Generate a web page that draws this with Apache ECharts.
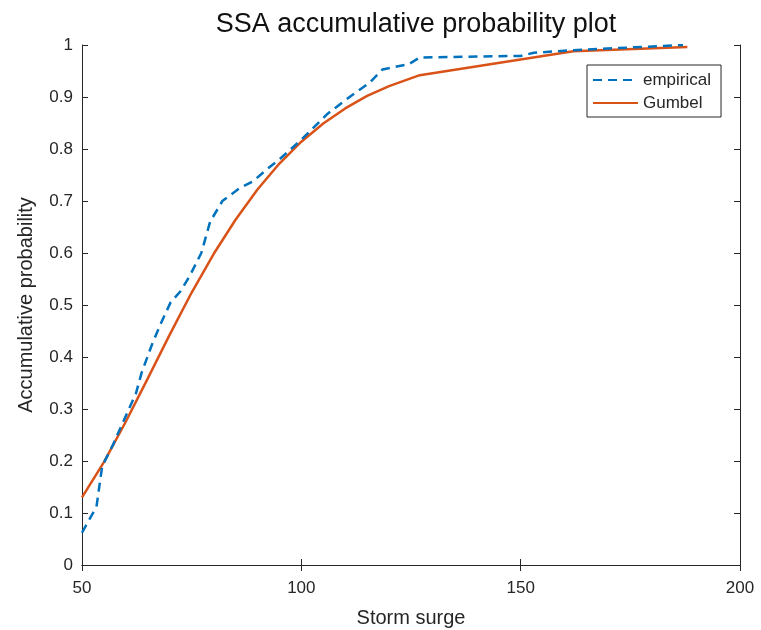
<!DOCTYPE html>
<html>
<head>
<meta charset="utf-8">
<title>SSA accumulative probability plot</title>
<script src="https://cdn.jsdelivr.net/npm/echarts@6/dist/echarts.min.js"></script>
<style>
  html, body { margin: 0; padding: 0; background: #fff; }
  #chart { width: 761px; height: 630px; }
</style>
</head>
<body>
<div id="chart"></div>
<script>
// Storm surge levels and the empirical cumulative probability at each
const empiricalX = [50, 51.5, 53.3, 54.6, 57, 59.2, 62.3, 63.6, 66, 68, 70.2, 72.5, 74.5, 77.2, 79.2, 82, 86, 89, 92, 95, 100, 106, 111, 115.5, 118.5, 124.5, 127, 150, 153, 162, 187];
const empiricalP = [0.062, 0.085, 0.112, 0.19, 0.23, 0.272, 0.33, 0.37, 0.425, 0.465, 0.505, 0.527, 0.555, 0.6, 0.66, 0.7, 0.725, 0.738, 0.76, 0.78, 0.818, 0.868, 0.9, 0.927, 0.953, 0.963, 0.976, 0.979, 0.985, 0.99, 1.0];

// Fitted Gumbel distribution, cumulative probability at the same surge levels
const gumbelX = [50, 55, 60, 65, 70, 75, 80, 85, 90, 95, 100, 105, 110, 115, 120, 127, 162, 188];
const gumbelP = [0.13, 0.198, 0.276, 0.359, 0.443, 0.524, 0.598, 0.664, 0.722, 0.772, 0.814, 0.849, 0.878, 0.902, 0.921, 0.942, 0.988, 0.996];

const seriesNames = ['empirical', 'Gumbel'];
const titleText = 'SSA accumulative probability plot';
const xName = 'Storm surge';
const yName = 'Accumulative probability';

const FONT = '"Liberation Sans", Arial, Helvetica, sans-serif';
const INK = '#262626';

const pairs = (xs, ys) => xs.map((x, i) => [x, ys[i]]);

const chart = echarts.init(document.getElementById('chart'), null, { renderer: 'canvas' });

const frameAxis = {
  axisLine: { show: true, lineStyle: { color: INK, width: 1 } },
  axisTick: { show: true, inside: true, length: 6, lineStyle: { color: INK, width: 1 } },
  splitLine: { show: false }
};

chart.setOption({
  animation: false,
  backgroundColor: '#fff',
  title: {
    text: titleText,
    left: 411,
    textAlign: 'center',
    top: 6,
    textStyle: { fontFamily: FONT, fontSize: 27, fontWeight: 'normal', color: '#111' }
  },
  legend: {
    data: seriesNames,
    orient: 'vertical',
    left: 587,
    top: 65,
    padding: [6, 10, 5, 5],
    itemGap: 5,
    itemWidth: 45,
    itemHeight: 14,
    borderColor: INK,
    borderWidth: 1,
    backgroundColor: '#fff',
    itemStyle: { opacity: 0 },
    textStyle: { fontFamily: FONT, fontSize: 17, lineHeight: 18, color: INK }
  },
  grid: { left: 82, right: 21, top: 45, bottom: 65, containLabel: false, outerBoundsMode: 'none' },
  xAxis: [
    Object.assign({
      type: 'value', min: 50, max: 200, interval: 50, position: 'bottom',
      name: xName, nameLocation: 'middle', nameGap: 43,
      nameTextStyle: { fontFamily: FONT, fontSize: 20, color: INK },
      axisLabel: { fontFamily: FONT, fontSize: 17, color: INK, margin: 15 }
    }, frameAxis),
    Object.assign({
      type: 'value', min: 50, max: 200, interval: 50, position: 'top',
      axisLabel: { show: false }
    }, frameAxis)
  ],
  yAxis: [
    Object.assign({
      type: 'value', min: 0, max: 1, interval: 0.1, position: 'left',
      name: yName, nameLocation: 'middle', nameGap: 46,
      nameTextStyle: { fontFamily: FONT, fontSize: 20, color: INK },
      axisLabel: { fontFamily: FONT, fontSize: 17, color: INK, margin: 9 }
    }, frameAxis),
    Object.assign({
      type: 'value', min: 0, max: 1, interval: 0.1, position: 'right',
      axisLabel: { show: false }
    }, frameAxis)
  ],
  series: [
    {
      name: seriesNames[0],
      type: 'line',
      data: pairs(empiricalX, empiricalP),
      showSymbol: false,
      symbol: 'none',
      color: '#0072BD',
      lineStyle: { color: '#0072BD', width: 2.5, type: [9, 6] },
      z: 3
    },
    {
      name: seriesNames[1],
      type: 'line',
      data: pairs(gumbelX, gumbelP),
      showSymbol: false,
      symbol: 'none',
      color: '#D95319',
      lineStyle: { color: '#D95319', width: 2.5 },
      z: 2
    }
  ]
});
</script>
</body>
</html>
